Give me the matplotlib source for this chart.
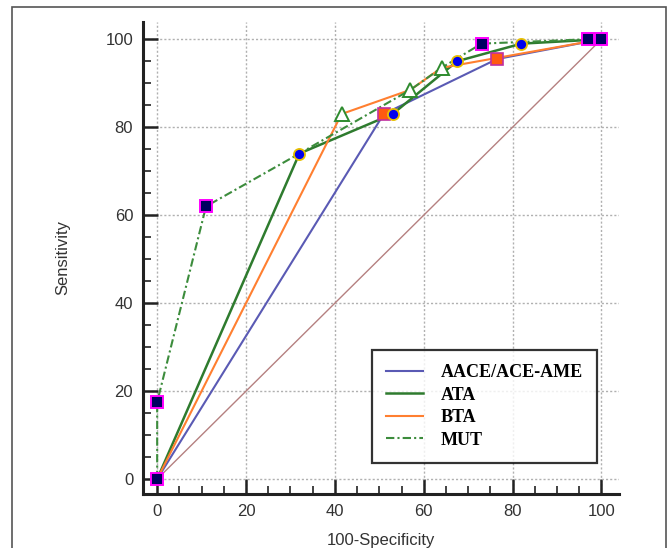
import matplotlib.pyplot as plt
from matplotlib.patches import Rectangle

# ROC points (100-Specificity, Sensitivity)
aace_x = [0, 51, 76.5, 100]
aace_y = [0, 83, 95.5, 100]

ata_x = [0, 32, 53, 67.5, 82, 100]
ata_y = [0, 74, 83, 95, 99, 100]

bta_x = [0, 41.5, 57, 64, 100]
bta_y = [0, 83, 88.5, 93.5, 100]

mut_x = [0, 0, 11, 32, 57, 64, 73, 97, 100]
mut_y = [0, 17.5, 62, 74, 88.5, 93.5, 99, 100, 100]
mut_marked = [0, 1, 2, 6, 7, 8]

ref_x = [0, 100]
ref_y = [0, 100]

fig = plt.figure(figsize=(6.68, 5.48), dpi=100)
ax = fig.add_axes([0.214, 0.0985, 0.713, 0.862])

# outer frame
fig.patches.append(Rectangle((12 / 668, -0.01), 654 / 668, 1 - 7 / 548 + 0.01,
                             transform=fig.transFigure, fill=False,
                             edgecolor='#555555', lw=1.2))

ax.plot(ref_x, ref_y, color='#b58080', lw=1.0, zorder=2)

ax.plot(aace_x, aace_y, color='#5a5ab4', lw=1.5, label='AACE/ACE-AME', zorder=3)
ax.plot(ata_x, ata_y, color='#2e7b2e', lw=1.8, label='ATA', zorder=3)
ax.plot(bta_x, bta_y, color='#ff7f30', lw=1.5, label='BTA', zorder=3)
ax.plot(mut_x, mut_y, color='#3c8c3c', lw=1.5, ls=(0, (4, 1.5, 1, 1.5)),
        label='MUT', zorder=3)

# markers
ax.plot(aace_x[1:3], aace_y[1:3], ls='none', marker='s', ms=8.5,
        mfc='#ff5a10', mec='#c030a0', mew=1.2, zorder=5)
ax.plot(ata_x[1:5], ata_y[1:5], ls='none', marker='o', ms=8,
        mfc='#0000ee', mec='#e8c000', mew=1.3, zorder=6)
ax.plot(bta_x[1:4], bta_y[1:4], ls='none', marker='^', ms=10,
        mfc='white', mec='#2e8b2e', mew=1.4, zorder=5)
ax.plot([mut_x[i] for i in mut_marked], [mut_y[i] for i in mut_marked],
        ls='none', marker='s', ms=8.5, mfc='#000060', mec='#ff00ff',
        mew=1.4, zorder=6)

ax.set_xlim(-3.2, 104)
ax.set_ylim(-3.4, 104)
ax.set_xticks(range(0, 101, 20))
ax.set_yticks(range(0, 101, 20))
ax.set_xticks(range(0, 101, 5), minor=True)
ax.set_yticks(range(0, 101, 5), minor=True)
ax.tick_params(which='major', direction='in', length=11, width=1.8,
               labelsize=12, pad=7, color='#222222')
ax.tick_params(which='minor', direction='in', length=6, width=1.2,
               color='#222222')
for lab in ax.get_xticklabels() + ax.get_yticklabels():
    lab.set_fontfamily('Liberation Sans')
    lab.set_color('#333333')

ax.grid(True, which='major', ls=(0, (1.5, 1.5)), color='#b0b0b0', lw=1.0)
ax.set_axisbelow(True)

for s in ['top', 'right']:
    ax.spines[s].set_visible(False)
for s in ['left', 'bottom']:
    ax.spines[s].set_linewidth(2.2)
    ax.spines[s].set_color('#222222')

ax.set_xlabel('100-Specificity', fontsize=12, family='Liberation Sans',
              color='#333333', labelpad=10)
ax.set_ylabel('Sensitivity', fontsize=12, family='Liberation Sans',
              color='#333333', labelpad=25)

leg = ax.legend(loc='upper left', bbox_to_anchor=(0.481, 0.305),
                prop={'family': 'Liberation Serif', 'weight': 'bold', 'size': 13},
                frameon=True, fancybox=False, edgecolor='black',
                handlelength=2.0, handletextpad=1.0, labelspacing=0.3,
                borderpad=0.8, borderaxespad=0)
leg.get_frame().set_linewidth(1.6)
leg.set_zorder(10)

fig.savefig('out.png', dpi=100)
